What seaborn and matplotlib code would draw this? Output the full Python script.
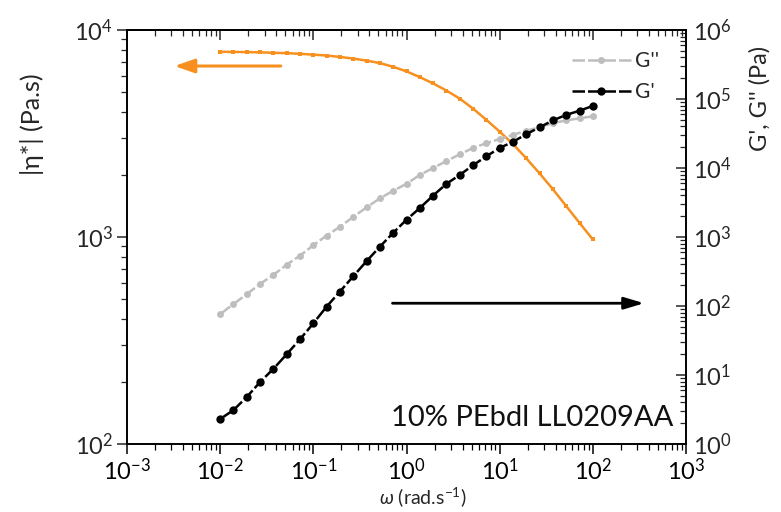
import math
import matplotlib
matplotlib.use("Agg")
import matplotlib.pyplot as plt
import matplotlib.ticker as mticker
from matplotlib.lines import Line2D
import seaborn as sns
import pandas as pd

# ---- data ----
omega = [0.01, 0.0139, 0.0193, 0.0268, 0.0373, 0.0518, 0.0720,
         0.1, 0.139, 0.193, 0.268, 0.373, 0.518, 0.720,
         1.0, 1.39, 1.93, 2.68, 3.73, 5.18, 7.20,
         10.0, 13.9, 19.3, 26.8, 37.3, 51.8, 72.0, 100.0]
g_storage = [2.3, 3.1, 4.8, 7.9, 12.3, 20, 33,
             56, 98, 162, 269, 447, 724, 1150,
             1780, 2630, 3980, 5890, 7940, 10960, 14790,
             19500, 24000, 30900, 38900, 49000, 58900, 67600, 79400]
g_loss = [76, 107, 148, 209, 282, 398, 537,
          759, 1050, 1410, 1950, 2690, 3630, 4680,
          5890, 7940, 10000, 12600, 15800, 19500, 22900,
          26300, 30200, 34700, 38900, 44700, 49000, 52500, 56200]
eta = [7850, 7835, 7820, 7800, 7760, 7730, 7675,
       7600, 7530, 7410, 7280, 7110, 6920, 6640,
       6310, 5920, 5520, 5100, 4660, 4170, 3680,
       3230, 2810, 2400, 2030, 1700, 1410, 1170, 973]
series_labels = ["G''", "G'"]
sample_label = "10% PEbdl LL0209AA"

df = pd.DataFrame({"omega": omega, "Gp": g_storage, "Gpp": g_loss, "eta": eta})

sns.set_theme(style="white")
plt.rcParams["font.family"] = ["Lato", "DejaVu Sans"]
plt.rcParams["mathtext.fontset"] = "custom"
plt.rcParams["mathtext.rm"] = "Lato"
plt.rcParams["mathtext.it"] = "Lato:italic"
plt.rcParams["mathtext.bf"] = "Lato:bold"

ORANGE = "#F7901E"
GRAY = "#BEBEBE"
BLACK = "#000000"

fig = plt.figure(figsize=(7.81, 5.12), dpi=100)
ax = fig.add_axes([127 / 781, 1 - 444 / 512, (686 - 127) / 781, (444 - 30) / 512])
ax2 = ax.twinx()

# viscosity on left axis
sns.lineplot(data=df, x="omega", y="eta", ax=ax, color=ORANGE, linewidth=1.8,
             marker="s", markersize=2.5, markeredgewidth=0, legend=False)

# moduli on right axis
sns.lineplot(data=df, x="omega", y="Gpp", ax=ax2, color=GRAY, linewidth=1.8,
             linestyle=(0, (5, 1.2)), marker="o", markersize=5, markeredgewidth=0,
             legend=False)
sns.lineplot(data=df, x="omega", y="Gp", ax=ax2, color=BLACK, linewidth=1.8,
             linestyle=(0, (5, 1.2)), marker="o", markersize=6, markeredgewidth=0,
             legend=False)

ax.set_xscale("log")
ax.set_yscale("log")
ax2.set_yscale("log")
ax.set_xlim(1e-3, 1e3)
ax.set_ylim(1e2, 1e4)
ax2.set_ylim(1e0, 1e6)

fmt = mticker.FuncFormatter(lambda v, p: r"$10^{%d}$" % round(math.log10(v)))
for a in (ax.xaxis, ax.yaxis, ax2.yaxis):
    a.set_major_locator(mticker.LogLocator(base=10, numticks=20))
    a.set_minor_locator(mticker.LogLocator(base=10, subs=range(2, 10), numticks=20))
    a.set_major_formatter(fmt)
    a.set_minor_formatter(mticker.NullFormatter())

for s in list(ax.spines.values()) + list(ax2.spines.values()):
    s.set_color("black")
    s.set_linewidth(1.2)

ax.tick_params(axis="x", which="both", direction="out", bottom=True, top=False,
               labelsize=17, colors="black", pad=3)
ax.tick_params(axis="x", which="major", length=7, width=1.1)
ax.tick_params(axis="x", which="minor", length=4, width=0.9)
ax.tick_params(axis="y", which="both", direction="out", left=True, labelsize=17, pad=3)
ax.tick_params(axis="y", which="major", length=7, width=1.1)
ax.tick_params(axis="y", which="minor", length=4, width=0.9)

# inward ticks along the top edge
top = ax.secondary_xaxis("top")
top.xaxis.set_major_locator(mticker.LogLocator(base=10, numticks=20))
top.xaxis.set_minor_locator(mticker.LogLocator(base=10, subs=range(2, 10), numticks=20))
top.xaxis.set_major_formatter(mticker.NullFormatter())
top.xaxis.set_minor_formatter(mticker.NullFormatter())
top.tick_params(axis="x", which="both", direction="in", labeltop=False)
top.tick_params(axis="x", which="major", length=7, width=1.1)
top.tick_params(axis="x", which="minor", length=4, width=0.9)
top.spines["top"].set_linewidth(1.2)
top.spines["top"].set_color("black")

ax2.tick_params(axis="y", which="both", direction="in", right=True, labelsize=17, pad=5)
ax2.tick_params(axis="y", which="major", length=7, width=1.1)
ax2.tick_params(axis="y", which="minor", length=4, width=0.9)

ax.set_xlabel("")
ax.set_ylabel("")
ax2.set_xlabel("")
ax2.set_ylabel("")

fig.text(32 / 781, 1 - 124 / 512, "|η*| (Pa.s)", rotation=90, ha="center", va="center",
         fontsize=18, family=["Lato", "DejaVu Sans"])
fig.text(760 / 781, 1 - 98 / 512, "G', G'' (Pa)", rotation=90, ha="center", va="center",
         fontsize=17)
fig.text(423 / 781, 1 - 497 / 512, r"$\omega$ (rad.s$^{-1}$)", ha="center", va="center",
         fontsize=14)

ax.text(0.978, 0.063, sample_label, transform=ax.transAxes, ha="right", va="center",
        fontsize=21, color="#111111")

# direction arrows
ax.annotate("", xy=(0.08, 0.913), xytext=(0.28, 0.913), xycoords="axes fraction",
            arrowprops=dict(arrowstyle="-|>,head_length=1.0,head_width=0.35",
                            color=ORANGE, lw=2.2))
ax.annotate("", xy=(0.93, 0.34), xytext=(0.47, 0.34), xycoords="axes fraction",
            arrowprops=dict(arrowstyle="-|>,head_length=1.0,head_width=0.3",
                            color=BLACK, lw=2.0))

handles = [Line2D([], [], color=GRAY, linewidth=1.8, linestyle=(0, (5, 1.2)), marker="o",
                  markersize=5, markeredgewidth=0),
           Line2D([], [], color=BLACK, linewidth=1.8, linestyle=(0, (5, 1.2)), marker="o",
                  markersize=6, markeredgewidth=0)]
ax2.legend(handles, series_labels, loc="upper right", bbox_to_anchor=(0.985, 0.995),
           frameon=False, fontsize=15, handlelength=2.8, handletextpad=0.2,
           labelspacing=0.55)

fig.savefig("out.png", dpi=100)
